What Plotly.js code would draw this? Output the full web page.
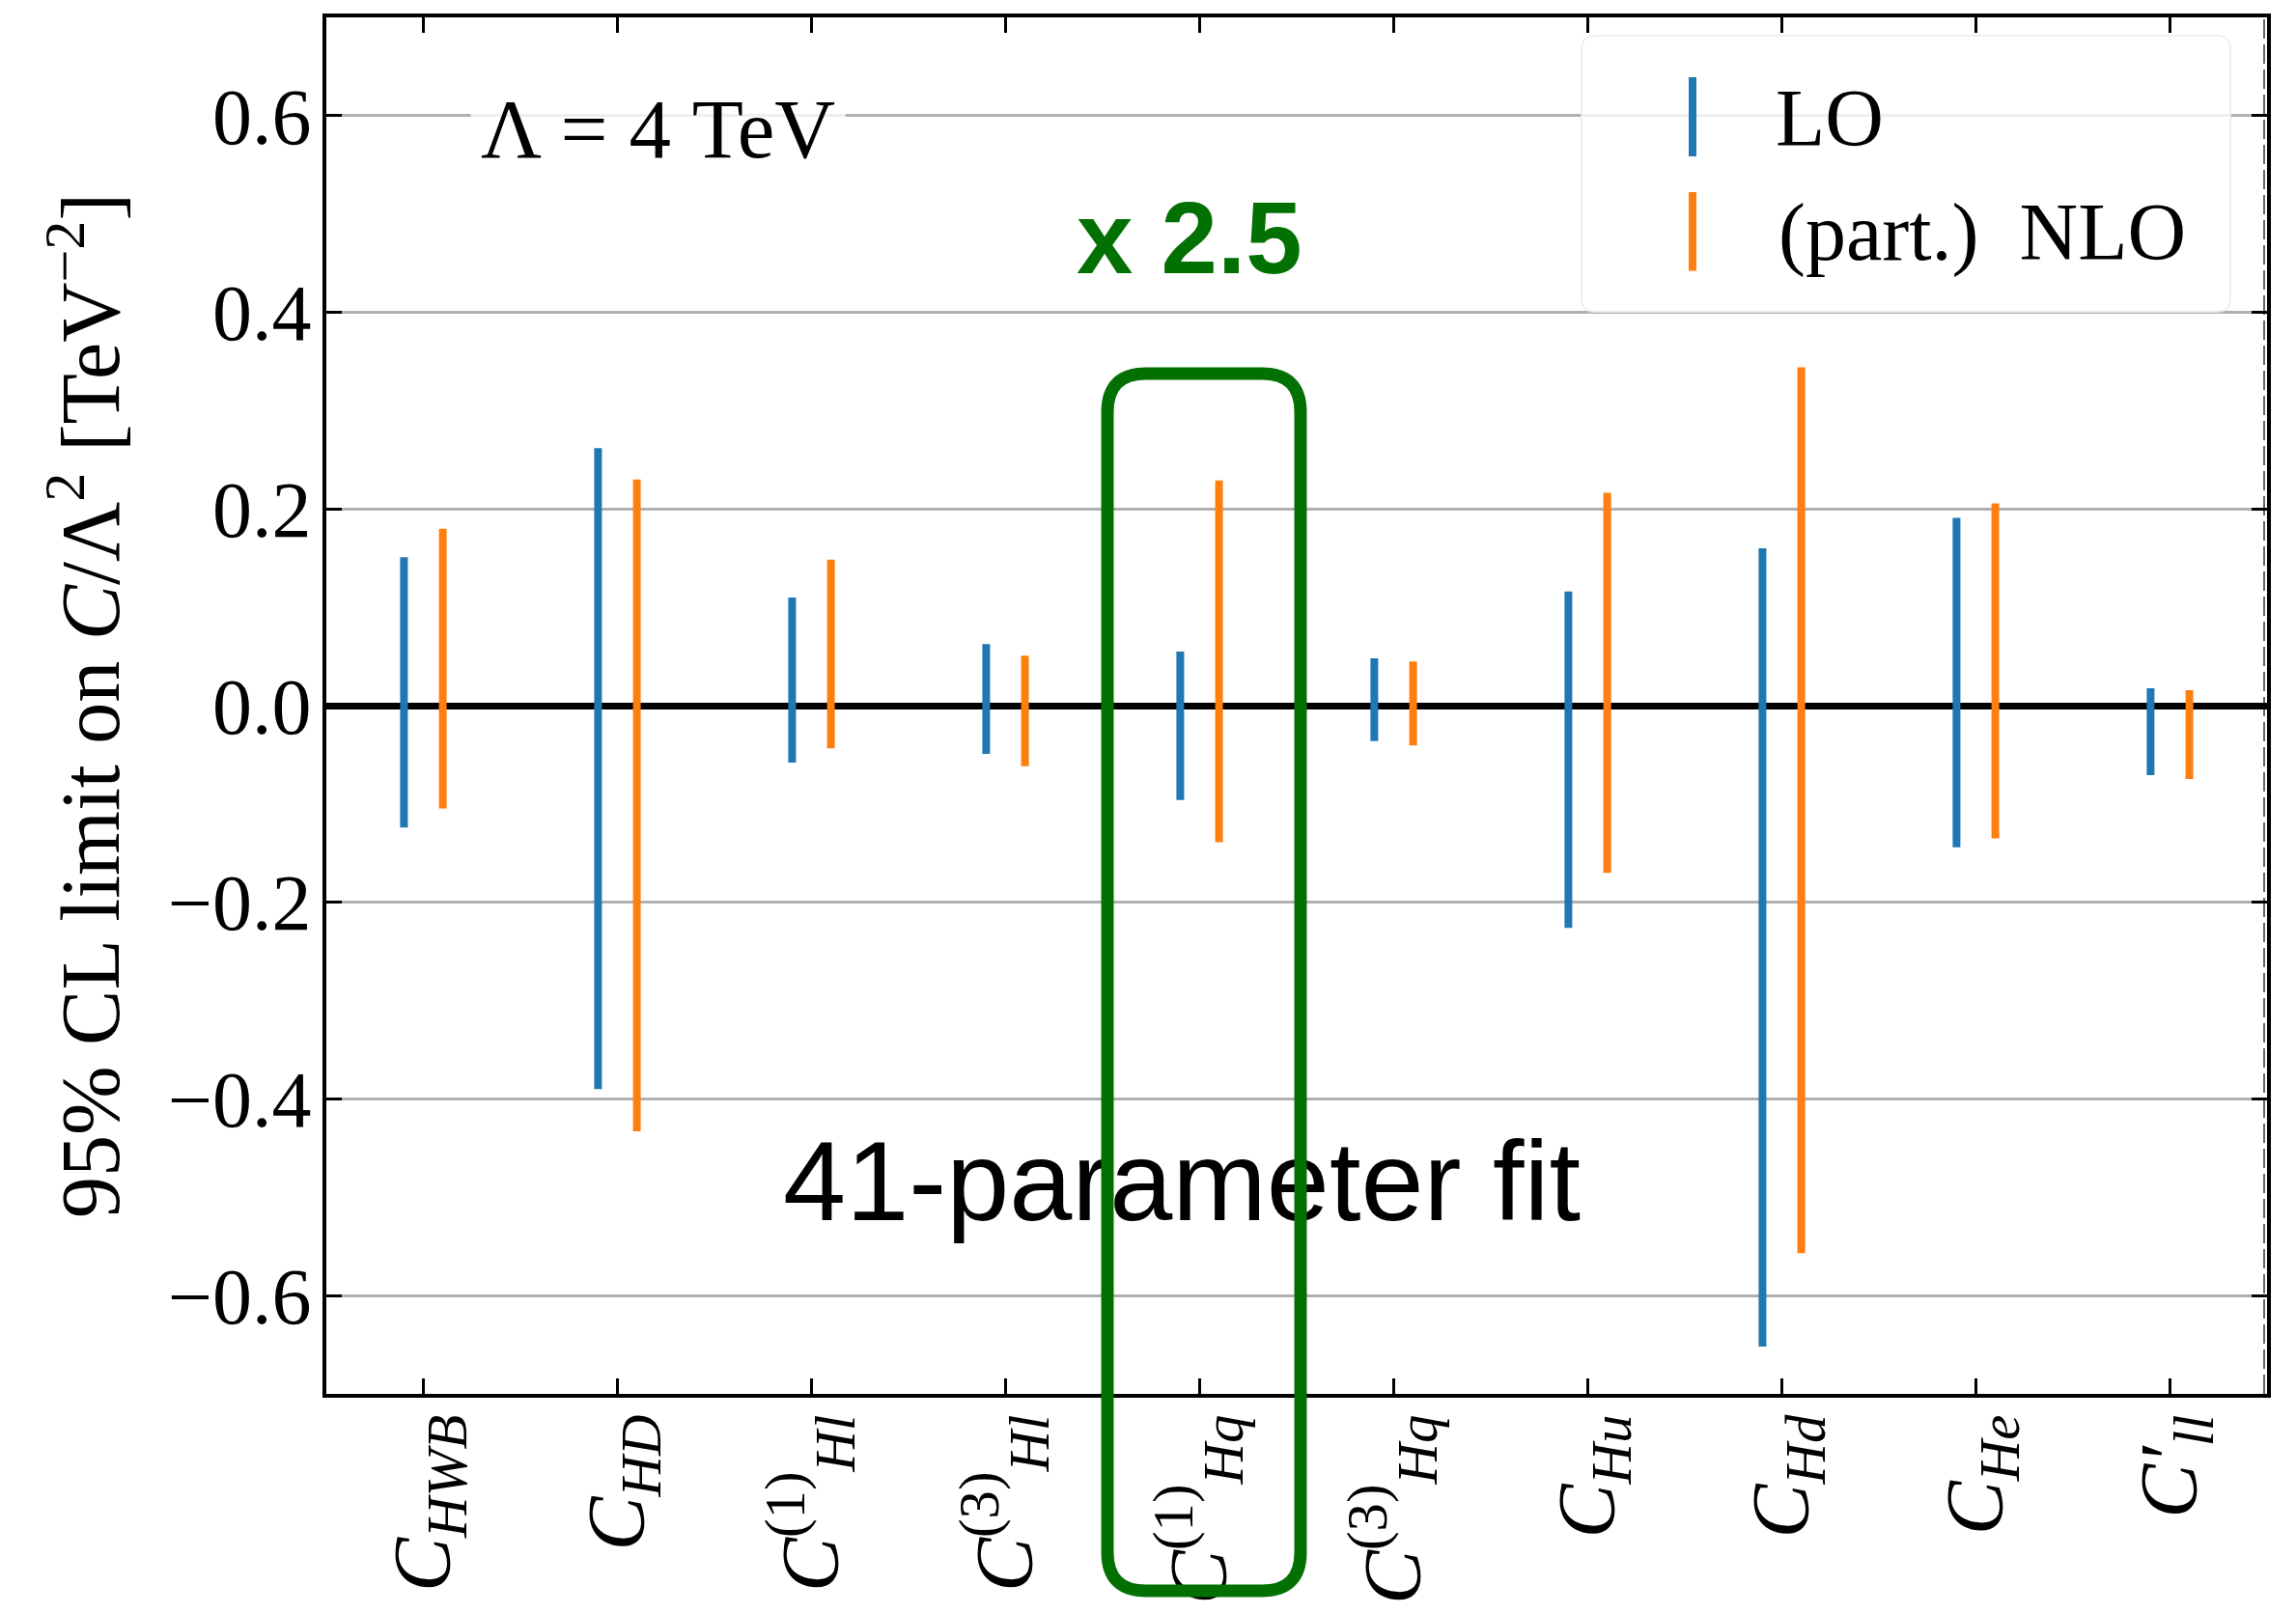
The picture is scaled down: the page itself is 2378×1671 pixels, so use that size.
<!DOCTYPE html>
<html>
<head>
<meta charset="utf-8">
<script src="https://cdn.plot.ly/plotly-3.0.1.min.js"></script>
<style>html,body{margin:0;padding:0;background:#fff;}#chart{width:2378px;height:1671px;}</style>
</head>
<body>
<div id="chart"></div>
<script>
// ---- data ----
const categories = [
  '<i>C</i><sub><i>HWB</i></sub>',
  '<i>C</i><sub><i>HD</i></sub>',
  '<i>C</i><sup>(1)</sup><sub><i>Hl</i></sub>',
  '<i>C</i><sup>(3)</sup><sub><i>Hl</i></sub>',
  '<i>C</i><sup>(1)</sup><sub><i>Hq</i></sub>',
  '<i>C</i><sup>(3)</sup><sub><i>Hq</i></sub>',
  '<i>C</i><sub><i>Hu</i></sub>',
  '<i>C</i><sub><i>Hd</i></sub>',
  '<i>C</i><sub><i>He</i></sub>',
  '<i>C′</i><sub><i>ll</i></sub>'
];
const loHigh  = [0.151, 0.262, 0.110, 0.0625, 0.055, 0.048, 0.116, 0.160, 0.191, 0.0177];
const loLow   = [-0.124, -0.390, -0.058, -0.049, -0.096, -0.036, -0.226, -0.652, -0.144, -0.0707];
const nloHigh = [0.180, 0.230, 0.1485, 0.0508, 0.229, 0.0449, 0.2164, 0.344, 0.2056, 0.0157];
const nloLow  = [-0.1045, -0.433, -0.0435, -0.0615, -0.139, -0.0406, -0.170, -0.557, -0.135, -0.0746];
const yTickVals = [-0.6, -0.4, -0.2, 0.0, 0.2, 0.4, 0.6];
const seriesNames = ['LO', '(part.)  NLO'];
const yTitle = '95% CL limit on <i>C</i>/Λ<sup>2</sup> [TeV<sup>−2</sup>]';
const scaleLabel = 'Λ = 4 TeV';
const factorLabel = 'x 2.5';
const fitLabel = '41-parameter fit';

// ---- style ----
const W = 2378, H = 1671;
const M = {l: 338, r: 30, t: 18, b: 227};
const PW = W - M.l - M.r, PH = H - M.t - M.b;
const BLUE = '#1f77b4', ORANGE = '#ff7f0e', GREEN = '#037003';
const SERIF = 'Liberation Serif, Times New Roman, serif';
const SANS = 'Liberation Sans, Arial, sans-serif';
const OFFSET = 0.1;

function px(x) { return (x - M.l) / PW; }
function py(y) { return (M.t + PH - y) / PH; }
function roundRect(x0, y0, x1, y1, r) {
  const p = (x, y) => px(x) + ',' + py(y);
  return 'M' + p(x0 + r, y0) + ' L' + p(x1 - r, y0) + ' Q' + p(x1, y0) + ' ' + p(x1, y0 + r) +
         ' L' + p(x1, y1 - r) + ' Q' + p(x1, y1) + ' ' + p(x1 - r, y1) +
         ' L' + p(x0 + r, y1) + ' Q' + p(x0, y1) + ' ' + p(x0, y1 - r) +
         ' L' + p(x0, y0 + r) + ' Q' + p(x0, y0) + ' ' + p(x0 + r, y0) + ' Z';
}

function segTrace(low, high, off, color, name) {
  const x = [], y = [];
  categories.forEach((c, i) => {
    x.push(i + off, i + off, null);
    y.push(low[i], high[i], null);
  });
  return {type: 'scatter', mode: 'lines', x: x, y: y, name: name,
          line: {color: color, width: 8}, showlegend: false, hoverinfo: 'skip'};
}

const traces = [
  segTrace(loLow, loHigh, -OFFSET, BLUE, seriesNames[0]),
  segTrace(nloLow, nloHigh, OFFSET, ORANGE, seriesNames[1]),
  {type: 'scatter', mode: 'text', x: [3.908], y: [-0.495], text: [fitLabel],
   textposition: 'middle center', textfont: {family: SANS, size: 117, color: '#000'},
   showlegend: false, hoverinfo: 'skip'}
];

const layout = {
  width: W, height: H,
  margin: M,
  paper_bgcolor: '#fff', plot_bgcolor: '#fff',
  showlegend: false,
  xaxis: {
    range: [-0.5, 9.5],
    tickvals: categories.map((c, i) => i),
    ticktext: categories,
    tickangle: -90,
    ticks: 'inside', ticklen: 16, tickwidth: 3, tickcolor: '#000',
    showline: true, linewidth: 4, linecolor: '#000', mirror: 'ticks',
    showgrid: false, zeroline: false,
    tickfont: {family: SERIF, size: 84, color: '#000'},
    ticklabelstandoff: -16,
    automargin: false
  },
  yaxis: {
    range: [-0.7, 0.7],
    tickvals: yTickVals,
    tickformat: '.1f',
    ticks: 'inside', ticklen: 16, tickwidth: 3, tickcolor: '#000',
    showline: true, linewidth: 4, linecolor: '#000', mirror: 'ticks',
    showgrid: true, gridcolor: '#b0b0b0', gridwidth: 3,
    zeroline: true, zerolinecolor: '#000', zerolinewidth: 7,
    tickfont: {family: SERIF, size: 82, color: '#000'},
    ticklabelstandoff: -5,
    title: {text: yTitle, font: {family: SERIF, size: 86, color: '#000'}, standoff: 23},
    automargin: false
  },
  shapes: [
    {type: 'line', xref: 'paper', yref: 'paper', x0: px(2345), x1: px(2345), y0: 0, y1: 1,
     line: {color: '#666', width: 2, dash: '20px,6px'}, layer: 'below'},
    {type: 'path', xref: 'paper', yref: 'paper', path: roundRect(1638, 37, 2310, 323, 14),
     fillcolor: 'rgba(255,255,255,0.8)', line: {color: 'rgba(235,235,235,0.8)', width: 2}, layer: 'above'},
    {type: 'line', xref: 'paper', yref: 'paper', x0: px(1753), x1: px(1753), y0: py(80), y1: py(162),
     line: {color: BLUE, width: 8}, layer: 'above'},
    {type: 'line', xref: 'paper', yref: 'paper', x0: px(1753), x1: px(1753), y0: py(199), y1: py(280.5),
     line: {color: ORANGE, width: 8}, layer: 'above'},
    {type: 'path', xref: 'paper', yref: 'paper', path: roundRect(1147, 387, 1347, 1648, 40),
     line: {color: GREEN, width: 13}, fillcolor: 'rgba(0,0,0,0)', layer: 'above'}
  ],
  annotations: [
    {xref: 'paper', yref: 'paper', x: px(681), y: py(133.3), text: scaleLabel, showarrow: false,
     xanchor: 'center', yanchor: 'middle', font: {family: SERIF, size: 87, color: '#000'},
     bgcolor: 'rgba(255,255,255,0.8)', borderpad: 10},
    {xref: 'paper', yref: 'paper', x: px(1232), y: py(246), text: '<b>' + factorLabel + '</b>', showarrow: false,
     xanchor: 'center', yanchor: 'middle', font: {family: SANS, size: 105, color: GREEN}},
    {xref: 'paper', yref: 'paper', x: px(1837), y: py(122.5), text: seriesNames[0], showarrow: false,
     xanchor: 'left', yanchor: 'middle', font: {family: SERIF, size: 84, color: '#000'}},
    {xref: 'paper', yref: 'paper', x: px(1840), y: py(240.5), text: seriesNames[1], showarrow: false,
     xanchor: 'left', yanchor: 'middle', font: {family: SERIF, size: 84, color: '#000'}}
  ]
};

Plotly.newPlot('chart', traces, layout, {staticPlot: true, displayModeBar: false});
</script>
</body>
</html>
